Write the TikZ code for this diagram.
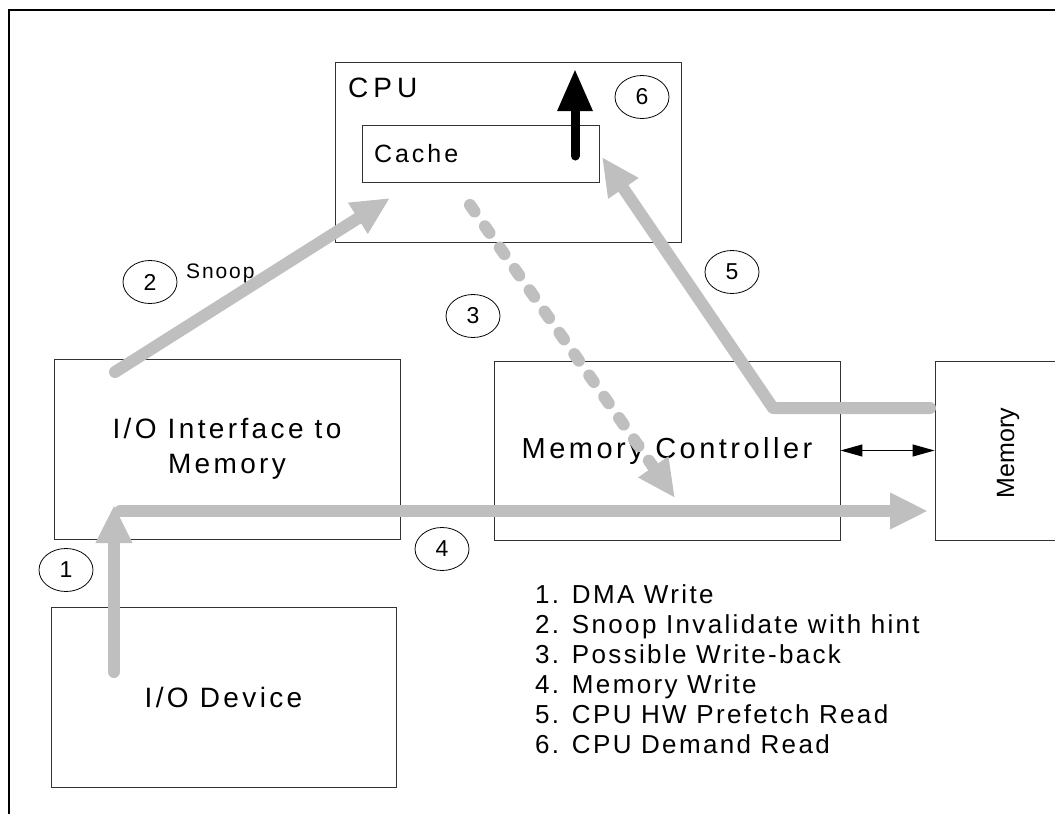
\documentclass[tikz,border=0pt]{standalone}
\usepackage{fontspec}
\setmainfont{Liberation Sans}
\newfontfamily\boxfont[LetterSpace=12]{Liberation Sans}
\newfontfamily\legendfont[LetterSpace=9]{Liberation Sans}
\newfontfamily\cpufont[LetterSpace=18]{Liberation Sans}
\usetikzlibrary{arrows.meta,shapes.geometric,positioning}

\definecolor{flow}{gray}{0.75}

\tikzset{
  unit/.style={draw=black!80,line width=0.9pt,minimum width=346pt,minimum height=180pt,
    inner sep=0pt,align=center,font=\boxfont\fontsize{28}{35}\selectfont},
  callout/.style={ellipse,draw,line width=0.8pt,minimum width=54pt,minimum height=43pt,
    inner sep=0pt,font=\fontsize{23}{23}\selectfont},
  flowline/.style={draw=flow,line width=12pt,line cap=round,line join=round,
    -{Triangle[length=38pt,width=34pt]}},
  legend/.style={anchor=base west,inner sep=0pt,font=\legendfont\fontsize{26}{30}\selectfont},
}

\begin{document}
\begin{tikzpicture}[x=1pt,y=-1pt]
  \useasboundingbox (0,0) rectangle (1055,814);
  \clip (0,0) rectangle (1055,814);
  \draw[line width=2.5pt] (1100,10) -- (9,10) -- (9,900);

  % boxes
  \node[unit] (cpu) at (508,152) {};
  \node[anchor=base west,inner sep=0pt,font=\cpufont\fontsize{28}{30}\selectfont] (cpulabel) at (348,97) {CPU};
  \node[unit,minimum width=237pt,minimum height=57pt,text width=213pt,align=left,inner xsep=12pt,
    font=\boxfont\fontsize{25}{30}\selectfont] (cache) at (480.5,153.5) {Cache};
  \node[unit] (ioif) at (227,449) {I/O Interface to\\Memory};
  \node[unit,minimum height=179pt,font=\boxfont\fontsize{29}{35}\selectfont] (mc) at (667,450.5) {Memory Controller};
  \node[unit,minimum width=146pt,minimum height=179pt] (mem) at (1008,450.5) {};
  \node[rotate=90,inner sep=0pt,font=\fontsize{25}{30}\selectfont] (memlabel) at (1008,453) {Memory};
  \node[unit,minimum width=345pt] (iodev) at (223.5,697) {I/O Device};

  \draw[line width=1pt,{Triangle[length=22pt,width=12pt]}-{Triangle[length=22pt,width=12pt]}] (mc.east) -- (mem.west);

  % flow ends
  \coordinate (dma from) at (114,672);
  \coordinate (dma to) at (114,505);
  \coordinate (wr from) at (120,511);
  \coordinate (wr to) at (928,511);
  \coordinate (snoop from) at (115,372);
  \coordinate (snoop to) at (390,198);
  \coordinate (wb from) at (470,205);
  \coordinate (wb to) at (675,498);
  \coordinate (pf from) at (930,408);
  \coordinate (pf bend) at (773,408);
  \coordinate (pf to) at (602,157);
  \coordinate (dr from) at (575,156);
  \coordinate (dr to) at (575,69);

  \draw[flowline] (dma from) -- (dma to);
  \draw[flowline] (wr from) -- (wr to);
  \draw[flowline] (snoop from) -- (snoop to);
  \draw[flowline,dash pattern=on 8pt off 18pt] (wb from) -- (wb to);
  \draw[flowline] (pf from) -- (pf bend) -- (pf to);
  \draw[line width=9pt,line cap=round,-{Triangle[length=42pt,width=33pt]}] (dr from) -- (dr to);

  % step numbers
  \node[callout] (n1) at (66,570) {1};
  \node[callout] (n2) at (150,282) {2};
  \node[callout] (n3) at (473,316) {3};
  \node[callout] (n4) at (442,549) {4};
  \node[callout] (n5) at (732,272) {5};
  \node[callout] (n6) at (642,97) {6};
  \node[anchor=base west,inner sep=0pt,font=\legendfont\fontsize{21}{21}\selectfont] (snoop) at (186,278) {Snoop};

  % legend
  \foreach \txt [count=\i] in {DMA Write,Snoop Invalidate with hint,Possible Write-back,
      Memory Write,CPU HW Prefetch Read,CPU Demand Read}
    \node[legend] (item\i) at (535,{573+30*\i}) {\i. \txt};
\end{tikzpicture}
\end{document}
